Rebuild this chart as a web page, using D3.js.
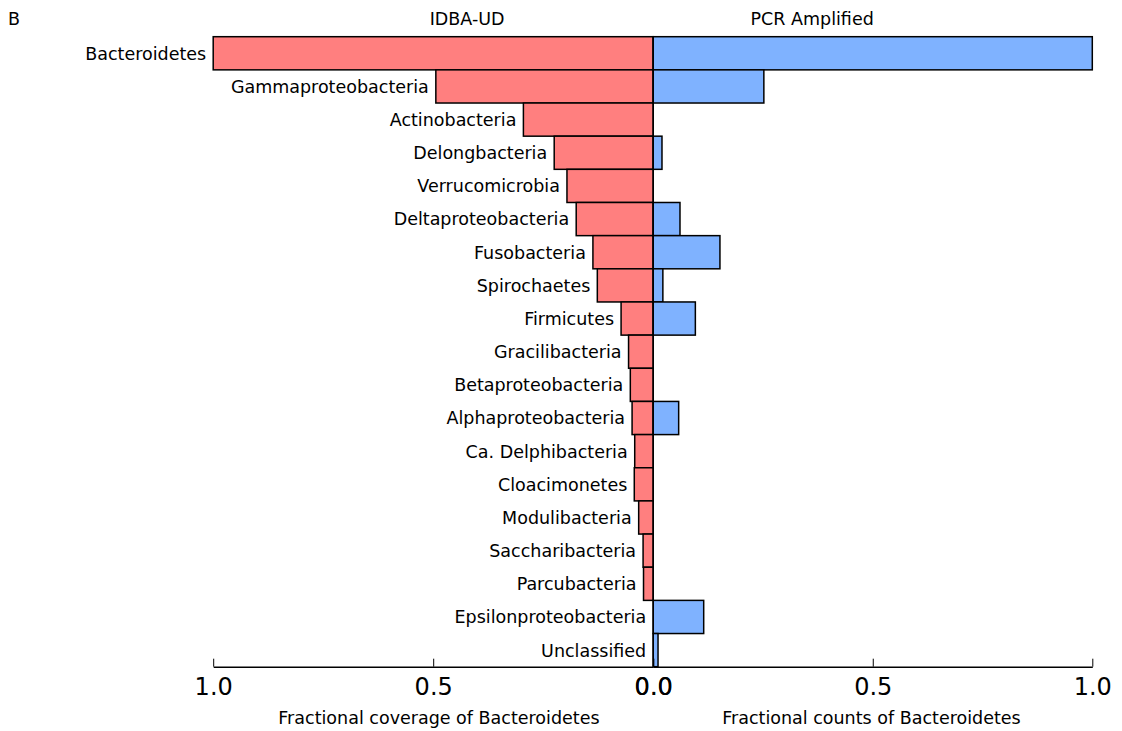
<!DOCTYPE html>
<html>
<head>
<meta charset="utf-8">
<script src="https://cdn.jsdelivr.net/npm/d3@7"></script>
<style>
  html, body { margin: 0; padding: 0; background: #fff; }
  svg { display: block; font-family: "DejaVu Sans", sans-serif; }
</style>
</head>
<body>
<svg id="chart" width="1122" height="731"></svg>
<script>
// Phyla, top to bottom
const categories = [
  "Bacteroidetes", "Gammaproteobacteria", "Actinobacteria", "Delongbacteria",
  "Verrucomicrobia", "Deltaproteobacteria", "Fusobacteria", "Spirochaetes",
  "Firmicutes", "Gracilibacteria", "Betaproteobacteria", "Alphaproteobacteria",
  "Ca. Delphibacteria", "Cloacimonetes", "Modulibacteria", "Saccharibacteria",
  "Parcubacteria", "Epsilonproteobacteria", "Unclassified"
];
// IDBA-UD assembly: coverage relative to Bacteroidetes
const idbaCoverage = [
  1.0, 0.494, 0.295, 0.225, 0.196, 0.175, 0.137, 0.127, 0.073, 0.056,
  0.052, 0.048, 0.042, 0.043, 0.033, 0.023, 0.022, 0.0, 0.0
];
// PCR amplified: counts relative to Bacteroidetes
const pcrCounts = [
  1.0, 0.252, 0.0, 0.020, 0.0, 0.061, 0.152, 0.022, 0.096, 0.0,
  0.0, 0.058, 0.0, 0.0, 0.0, 0.0, 0.0, 0.115, 0.011
];
const tickValues = [0, 0.5, 1.0];
const panelTitles = ["IDBA-UD", "PCR Amplified"];
const axisTitles = ["Fractional coverage of Bacteroidetes", "Fractional counts of Bacteroidetes"];

const svg = d3.select("#chart");
const plotTop = 36.7, plotBottom = 666.7, mid = 653.2, plotLeft = 213.2, plotRight = 1092.3;
const fs = 17.5;

const xL = d3.scaleLinear().domain([0, 1]).range([mid, plotLeft]);
const xR = d3.scaleLinear().domain([0, 1]).range([mid, plotRight]);
const y = d3.scaleBand().domain(categories).range([plotTop, plotBottom]).padding(0);

const red = "#ff7f7f", blue = "#7fb2ff";

// Left bars (IDBA-UD)
svg.append("g").selectAll("rect")
  .data(categories.map((c, i) => ({ c, v: idbaCoverage[i] })).filter(d => d.v > 0))
  .join("rect")
  .attr("x", d => xL(d.v))
  .attr("y", d => y(d.c))
  .attr("width", d => xL(0) - xL(d.v))
  .attr("height", y.bandwidth())
  .attr("fill", red)
  .attr("stroke", "#000")
  .attr("stroke-width", 1.5);

// Right bars (PCR amplified)
svg.append("g").selectAll("rect")
  .data(categories.map((c, i) => ({ c, v: pcrCounts[i] })).filter(d => d.v > 0))
  .join("rect")
  .attr("x", xR(0))
  .attr("y", d => y(d.c))
  .attr("width", d => xR(d.v) - xR(0))
  .attr("height", y.bandwidth())
  .attr("fill", blue)
  .attr("stroke", "#000")
  .attr("stroke-width", 1.5);

// Shared zero line
svg.append("line")
  .attr("x1", xL(0)).attr("x2", xL(0))
  .attr("y1", plotTop).attr("y2", plotBottom)
  .attr("stroke", "#000").attr("stroke-width", 1.5);

// Category labels, right-aligned just left of each red bar
svg.append("g").selectAll("text")
  .data(categories.map((c, i) => ({ c, v: idbaCoverage[i] })))
  .join("text")
  .attr("x", d => xL(d.v) - 7)
  .attr("y", d => y(d.c) + y.bandwidth() / 2 + 6.4)
  .attr("text-anchor", "end")
  .attr("font-size", fs)
  .attr("fill", "#000")
  .text(d => d.c);

// Bottom axes
function styleAxis(g) {
  g.select(".domain").attr("stroke", "#000").attr("stroke-width", 1.5);
  g.selectAll(".tick line").attr("stroke", "#000").attr("stroke-width", 1);
  g.selectAll(".tick text").attr("font-size", 24).attr("fill", "#000")
    .attr("font-family", "DejaVu Sans, sans-serif");
}
svg.append("g")
  .attr("transform", `translate(0,${plotBottom})`)
  .call(d3.axisBottom(xL).tickValues(tickValues).tickFormat(d3.format(".1f"))
    .tickSizeInner(-8).tickSizeOuter(0).tickPadding(11))
  .call(styleAxis);
svg.append("g")
  .attr("transform", `translate(0,${plotBottom})`)
  .call(d3.axisBottom(xR).tickValues(tickValues).tickFormat(d3.format(".1f"))
    .tickSizeInner(-8).tickSizeOuter(0).tickPadding(11))
  .call(styleAxis);

// Axis titles
svg.append("text")
  .attr("x", xL(0.487)).attr("y", 723.5)
  .attr("text-anchor", "middle").attr("font-size", fs)
  .text(axisTitles[0]);
svg.append("text")
  .attr("x", xR(0.497)).attr("y", 723.5)
  .attr("text-anchor", "middle").attr("font-size", fs)
  .text(axisTitles[1]);

// Panel titles
svg.append("text")
  .attr("x", xL(0.423)).attr("y", 25)
  .attr("text-anchor", "middle").attr("font-size", fs)
  .text(panelTitles[0]);
svg.append("text")
  .attr("x", xR(0.362)).attr("y", 25)
  .attr("text-anchor", "middle").attr("font-size", fs)
  .text(panelTitles[1]);

// Panel letter
svg.append("text")
  .attr("x", 8).attr("y", 25)
  .attr("font-size", fs)
  .text("B");
</script>
</body>
</html>
